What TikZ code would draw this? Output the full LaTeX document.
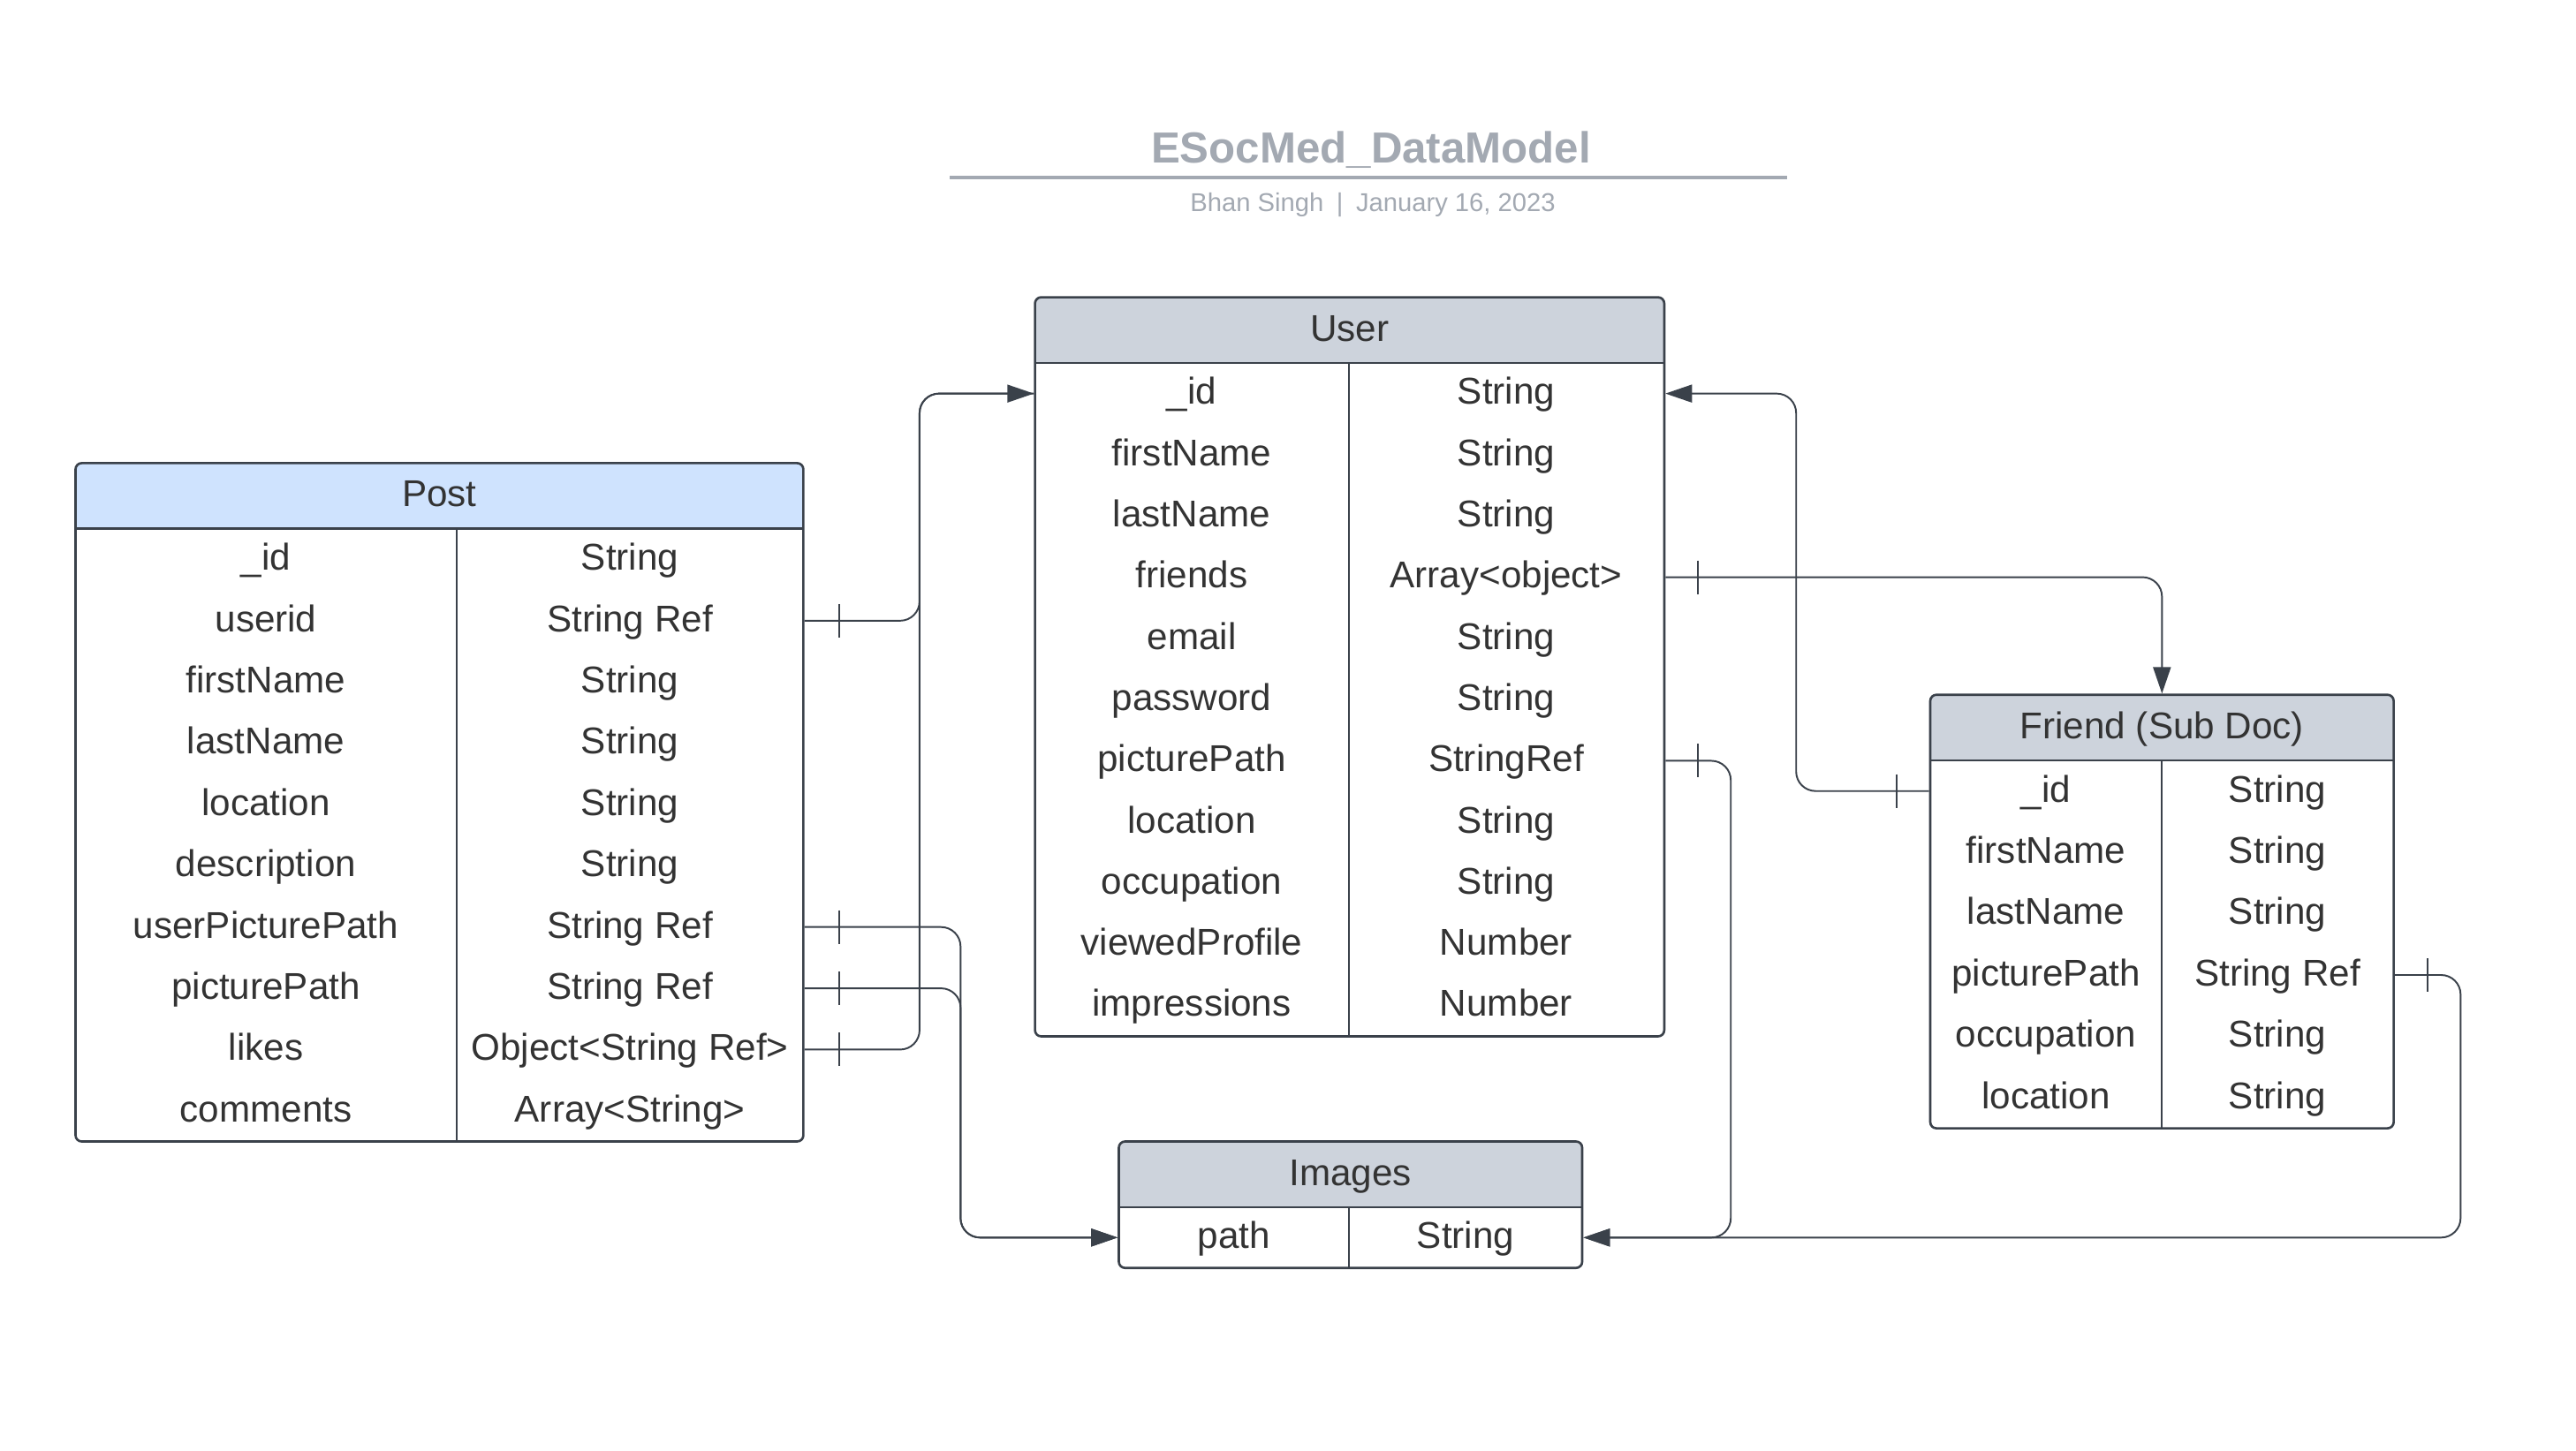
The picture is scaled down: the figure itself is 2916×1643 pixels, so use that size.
\documentclass[tikz,border=0pt]{standalone}
\usepackage{fontspec}
\setmainfont{Liberation Sans}
\usetikzlibrary{arrows.meta,fit,calc}
\definecolor{linecol}{HTML}{3A414A}
\definecolor{txtcol}{HTML}{333333}
\definecolor{titlecol}{HTML}{A3A9B2}
\definecolor{posthdr}{HTML}{CFE3FE}
\definecolor{grayhdr}{HTML}{CDD3DC}
\tikzset{
  frame/.style={draw=linecol, line width=0.75pt, rounded corners=0.07cm, inner sep=0pt},
  sepline/.style={draw=linecol, line width=0.75pt},
  cell/.style={font=\fontsize{12}{14}\selectfont, text=txtcol, inner sep=0pt, anchor=center, text height=8.2pt, text depth=1.2pt},
  conn/.style={draw=linecol, line width=0.55pt, rounded corners=0.22cm},
  arr/.style={-{Triangle[length=0.30cm,width=0.20cm]}},
  tick/.style={draw=linecol, line width=0.55pt},
}
\begin{document}
\begin{tikzpicture}[x=0.01cm,y=-0.01cm]
\fill[white] (0,0) rectangle (2916,1643);
\useasboundingbox (0,0) rectangle (2916,1643);

% Title
\node[font=\fontsize{14}{16}\selectfont\bfseries, text=titlecol, inner sep=0pt, text height=10pt, text depth=1pt] (title) at (1552,169) {ESocMed\_DataModel};
\coordinate (tl1) at (1075,201);
\coordinate (tl2) at (2023,201);
\draw[titlecol, line width=1.1pt] (tl1) -- (tl2);
\node[font=\fontsize{8.3}{10}\selectfont, text=titlecol, inner sep=0pt, text height=6pt, text depth=1pt] (subtitle) at (1554,231) {Bhan Singh\enspace|\enspace January 16, 2023};

% ---------------- Post ----------------
\fill[posthdr, rounded corners=0.07cm] (85.5,524.4) rectangle (909.4,598.8);
\fill[posthdr] (85.5,570) rectangle (909.4,598.8);
\draw[sepline] (85.5,598.8) -- (909.4,598.8);
\draw[sepline] (517,598.8) -- (517,1292.5);
\node[frame, fit={(85.5,524.4) (909.4,1292.5)}] (post) {};
\node[cell] (post-h) at (497.5,561.6) {Post};
\foreach [count=\i] \a/\b in {\_id/String, userid/String Ref, firstName/String, lastName/String, location/String, description/String, userPicturePath/String Ref, picturePath/String Ref, likes/Object<String Ref>, comments/Array<String>}{
  \node[cell] (post-n\i) at (301,{598.8+(\i-0.5)*69.37}) {\a};
  \node[cell] (post-t\i) at (713,{598.8+(\i-0.5)*69.37}) {\b};
}

% ---------------- User ----------------
\fill[grayhdr, rounded corners=0.07cm] (1171.6,336.6) rectangle (1883.9,411);
\fill[grayhdr] (1171.6,380) rectangle (1883.9,411);
\draw[sepline] (1171.6,411) -- (1883.9,411);
\draw[sepline] (1526.8,411) -- (1526.8,1173.5);
\node[frame, fit={(1171.6,336.6) (1883.9,1173.5)}] (user) {};
\node[cell] (user-h) at (1527.7,373.8) {User};
\foreach [count=\i] \a/\b in {\_id/String, firstName/String, lastName/String, friends/Array<object>, email/String, password/String, picturePath/StringRef, location/String, occupation/String, viewedProfile/Number, impressions/Number}{
  \node[cell] (user-n\i) at (1349,{411+(\i-0.5)*69.3}) {\a};
  \node[cell] (user-t\i) at (1705,{411+(\i-0.5)*69.3}) {\b};
}

% ---------------- Friend ----------------
\fill[grayhdr, rounded corners=0.07cm] (2185,786.7) rectangle (2709.6,861);
\fill[grayhdr] (2185,830) rectangle (2709.6,861);
\draw[sepline] (2185,861) -- (2709.6,861);
\draw[sepline] (2447,861) -- (2447,1277.6);
\node[frame, fit={(2185,786.7) (2709.6,1277.6)}] (friend) {};
\node[cell] (friend-h) at (2447.3,823.8) {Friend (Sub Doc)};
\foreach [count=\i] \a/\b in {\_id/String, firstName/String, lastName/String, picturePath/String Ref, occupation/String, location/String}{
  \node[cell] (friend-n\i) at (2316,{861+(\i-0.5)*69.43}) {\a};
  \node[cell] (friend-t\i) at (2578,{861+(\i-0.5)*69.43}) {\b};
}

% ---------------- Images ----------------
\fill[grayhdr, rounded corners=0.07cm] (1266.5,1292.5) rectangle (1791,1366.9);
\fill[grayhdr] (1266.5,1330) rectangle (1791,1366.9);
\draw[sepline] (1266.5,1366.9) -- (1791,1366.9);
\draw[sepline] (1526.8,1366.9) -- (1526.8,1435.7);
\node[frame, fit={(1266.5,1292.5) (1791,1435.7)}] (images) {};
\node[cell] (images-h) at (1528.7,1329.7) {Images};
\node[cell] (images-n1) at (1396.6,1401.3) {path};
\node[cell] (images-t1) at (1659,1401.3) {String};

% ---------------- Connectors ----------------
% Post.userid -> User._id
\draw[conn,arr] (post.east |- post-t2) -- ++(130.2,0) |- (user.west |- user-n1);
\draw[tick] ($(post.east |- post-t2)+(39,-19)$) -- ++(0,38);
% Post.likes -> User._id
\draw[conn] (post.east |- post-t9) -- ++(130.2,0) |- (user.west |- user-n1);
\draw[tick] ($(post.east |- post-t9)+(39,-19)$) -- ++(0,38);
% Post.userPicturePath -> Images.path
\draw[conn,arr] (post.east |- post-t7) -- ++(176.6,0) |- (images.west |- images-n1);
\draw[tick] ($(post.east |- post-t7)+(39,-19)$) -- ++(0,38);
% Post.picturePath -> Images.path
\draw[conn,arr] (post.east |- post-t8) -- ++(176.6,0) |- (images.west |- images-n1);
\draw[tick] ($(post.east |- post-t8)+(39,-19)$) -- ++(0,38);
% User.friends -> Friend
\draw[conn,arr] (user.east |- user-t4) -| (friend.north);
\draw[tick] ($(user.east |- user-t4)+(37,-19)$) -- ++(0,38);
% Friend._id -> User._id
\draw[conn,arr] (friend.west |- friend-n1) -- ++(-150.5,0) |- (user.east |- user-t1);
\draw[tick] ($(friend.west |- friend-n1)+(-37,-19)$) -- ++(0,38);
% User.picturePath -> Images
\draw[conn,arr] (user.east |- user-t7) -- ++(74,0) |- (images.east |- images-t1);
\draw[tick] ($(user.east |- user-t7)+(37,-19)$) -- ++(0,38);
% Friend.picturePath -> Images
\draw[conn,arr] (friend.east |- friend-t4) -- ++(74.4,0) |- (images.east |- images-t1);
\draw[tick] ($(friend.east |- friend-t4)+(37,-19)$) -- ++(0,38);
\end{tikzpicture}
\end{document}
